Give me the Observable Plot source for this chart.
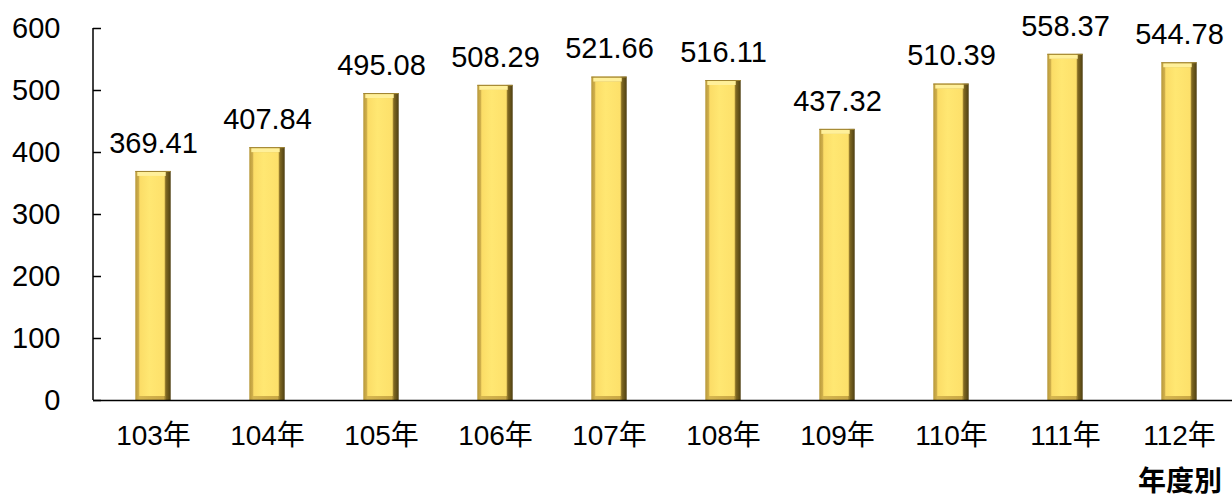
<!DOCTYPE html>
<html>
<head>
<meta charset="utf-8">
<script src="https://cdn.jsdelivr.net/npm/d3@7"></script>
<script src="https://cdn.jsdelivr.net/npm/@observablehq/plot@0.6"></script>
<style>
  html, body { margin: 0; padding: 0; background: #fff; overflow: hidden; }
  #chart svg { display: block; }
  #xlabel { font-family: "Noto Sans CJK TC", "Noto Sans CJK SC", sans-serif; font-weight: bold; font-size: 28px; text-align: right; padding-right: 10px; height: 35px; line-height: 34px; color: #000; }
</style>
</head>
<body>
<div id="chart"></div>
<div id="xlabel">年度別</div>
<script>
const years = ["103年", "104年", "105年", "106年", "107年", "108年", "109年", "110年", "111年", "112年"];
const values = [369.41, 407.84, 495.08, 508.29, 521.66, 516.11, 437.32, 510.39, 558.37, 544.78];
const yTicks = [0, 100, 200, 300, 400, 500, 600];

const data = years.map((year, i) => ({year, value: values[i]}));
const FONT = '"Liberation Sans", Arial, "Noto Sans CJK TC", sans-serif';
const inset = 39.3;

const defs = () => {
  const g = d3.create("svg:defs");
  const outer = g.append("linearGradient").attr("id", "outerGrad").attr("x1", 0).attr("x2", 1).attr("y1", 0).attr("y2", 0);
  [[0, "#B8983A"], [0.12, "#D6B650"], [0.8, "#C9A845"], [0.88, "#7A6420"], [1, "#4E3F12"]].forEach(([o, c]) =>
    outer.append("stop").attr("offset", o).attr("stop-color", c));
  const inner = g.append("linearGradient").attr("id", "innerGrad").attr("x1", 0).attr("x2", 1).attr("y1", 0).attr("y2", 0);
  [[0, "#FBDC66"], [0.4, "#FFE772"], [1, "#FDE06A"]].forEach(([o, c]) =>
    inner.append("stop").attr("offset", o).attr("stop-color", c));
  return g.node();
};

// vertical axis line along the left edge of the frame
const axisLine = (index, scales, values, dims) => {
  const l = d3.create("svg:line")
    .attr("x1", dims.marginLeft).attr("x2", dims.marginLeft)
    .attr("y1", dims.marginTop).attr("y2", dims.height - dims.marginBottom)
    .attr("stroke", "#000").attr("stroke-width", 1.5);
  return l.node();
};

const plot = Plot.plot({
  width: 1232,
  height: 462,
  marginLeft: 93,
  marginRight: 0,
  marginTop: 28,
  marginBottom: 62,
  style: {fontFamily: FONT, fontSize: "29px", color: "#000", background: "#fff", overflow: "visible"},
  x: {domain: years, range: [93, 1239], padding: 0},
  y: {domain: [0, 600]},
  marks: [
    defs,
    Plot.barY(data, {x: "year", y: "value", fill: "url(#outerGrad)", insetLeft: inset, insetRight: inset}),
    Plot.barY(data, {x: "year", y: "value", fill: "url(#innerGrad)", insetLeft: inset + 4, insetRight: inset + 6, insetTop: 5, insetBottom: 4}),
    Plot.barY(data, {x: "year", y1: "value", y2: "value", fill: "#FFF09A", insetLeft: inset + 2, insetRight: inset + 5, insetTop: 1, insetBottom: -5}),
    Plot.barY(data, {x: "year", y1: "value", y2: "value", fill: "#A08532", insetLeft: inset, insetRight: inset, insetTop: 0, insetBottom: -1}),
    Plot.text(data, {x: "year", y: "value", text: d => d.value.toFixed(2), dy: -28, fontSize: 29, fill: "#000", lineAnchor: "middle"}),
    Plot.ruleY([0], {stroke: "#000", strokeWidth: 1.5}),
    axisLine,
    Plot.axisY({ticks: yTicks, tickSize: 0, tickPadding: 33, fontSize: 29, label: null}),
    Plot.axisY({ticks: yTicks, tickSize: -8, text: null, stroke: "#000", strokeWidth: 1.5, label: null}),
    Plot.axisX({tickSize: 0, tickPadding: 25, fontSize: 28, label: null})
  ]
});
document.getElementById("chart").appendChild(plot);
</script>
</body>
</html>
